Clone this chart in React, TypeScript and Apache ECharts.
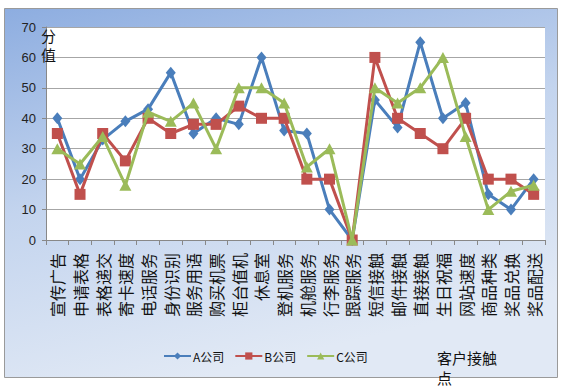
import React, { useEffect, useRef } from "react";
import * as echarts from "echarts";

const categories = [
  "宣传广告", "申请表格", "表格递交", "寄卡速度", "电话服务", "身份识别",
  "服务用语", "购买机票", "柜台值机", "休息室", "登机服务", "机舱服务",
  "行李服务", "跟踪服务", "短信接触", "邮件接触", "直接接触", "生日祝福",
  "网站速度", "商品种类", "奖品兑换", "奖品配送",
];
const seriesNames = ["A公司", "B公司", "C公司"];
const seriesA = [40, 20, 33, 39, 43, 55, 35, 40, 38, 60, 36, 35, 10, 0, 46, 37, 65, 40, 45, 15, 10, 20];
const seriesB = [35, 15, 35, 26, 40, 35, 38, 38, 44, 40, 40, 20, 20, 0, 60, 40, 35, 30, 40, 20, 20, 15];
const seriesC = [30, 25, 34, 18, 42, 39, 45, 30, 50, 50, 45, 24, 30, 0, 50, 45, 50, 60, 34, 10, 16, 18];
const yMin = 0;
const yMax = 70;
const yInterval = 10;
const yAxisTitle = "分\n值";
const xAxisTitle = "客户接触\n点";

const colors = ["#4a7ebb", "#c0504d", "#9bbb59"];
const symbols = ["diamond", "rect", "triangle"];
const symbolSizes: any[] = [[10, 12], 11, [12, 11]];
const cjk = "'Noto Sans CJK SC', 'Liberation Sans', sans-serif";

export default function App() {
  const ref = useRef<HTMLDivElement>(null);
  useEffect(() => {
    if (!ref.current) return;
    const chart = echarts.init(ref.current, undefined, { renderer: "svg" });
    const data = [seriesA, seriesB, seriesC];
    chart.setOption({
      animation: false,
      graphic: [
        {
          type: "rect",
          z: -10,
          silent: true,
          shape: { x: 4.5, y: 8.5, width: 553, height: 369 },
          style: {
            fill: new echarts.graphic.LinearGradient(0, 0, 0.35, 1, [
              { offset: 0, color: "#8dade0" },
              { offset: 0.5, color: "#c3d4ee" },
              { offset: 1, color: "#e1e9f5" },
            ]),
            stroke: "#9a9a9a",
            lineWidth: 1,
          },
        },
        {
          type: "text",
          left: 41,
          top: 26,
          z: 10,
          style: {
            text: yAxisTitle,
            font: "15px " + cjk,
            fill: "#111",
            lineHeight: 19,
          },
        },
        {
          type: "text",
          left: 437,
          top: 347,
          z: 10,
          style: {
            text: xAxisTitle,
            font: "15px " + cjk,
            fill: "#111",
            lineHeight: 20,
          },
        },
      ],
      grid: {
        left: 46,
        right: 19,
        top: 27,
        bottom: 146,
        show: true,
        backgroundColor: "#ffffff",
        borderWidth: 0,
        containLabel: false,
      },
      legend: {
        left: 163,
        top: 350,
        padding: 0,
        itemWidth: 27,
        itemHeight: 9,
        itemGap: 10,
        data: seriesNames,
        textStyle: { fontSize: 12, fontFamily: cjk, color: "#111", padding: [0, 0, 0, -3] },
      },
      xAxis: {
        type: "category",
        data: categories,
        boundaryGap: true,
        axisLine: { show: true, lineStyle: { color: "#888", width: 1 } },
        axisTick: { show: true, length: 5, lineStyle: { color: "#888" } },
        axisLabel: {
          interval: 0,
          rotate: 90,
          margin: 13,
          fontSize: 16,
          fontFamily: cjk,
          color: "#111",
        },
        splitLine: { show: false },
      },
      yAxis: {
        type: "value",
        min: yMin,
        max: yMax,
        interval: yInterval,
        axisLine: { show: true, lineStyle: { color: "#888", width: 1 } },
        axisTick: { show: true, length: 4, lineStyle: { color: "#888" } },
        axisLabel: {
          margin: 10,
          fontSize: 13,
          fontFamily: "'Liberation Sans', Arial, sans-serif",
          color: "#222",
        },
        splitLine: { show: true, lineStyle: { color: "#a6a6a6", width: 1 } },
      },
      series: seriesNames.map((name, i) => ({
        name,
        type: "line",
        data: data[i],
        symbol: symbols[i],
        symbolSize: symbolSizes[i],
        showAllSymbol: true,
        lineStyle: { color: colors[i], width: 3 },
        itemStyle: { color: colors[i], borderWidth: 0 },
        z: 2 + i,
      })),
    });
    return () => chart.dispose();
  }, []);
  return (
    <div
      ref={ref}
      style={{ position: "absolute", left: 0, top: 0, width: 564, height: 386 }}
    />
  );
}
